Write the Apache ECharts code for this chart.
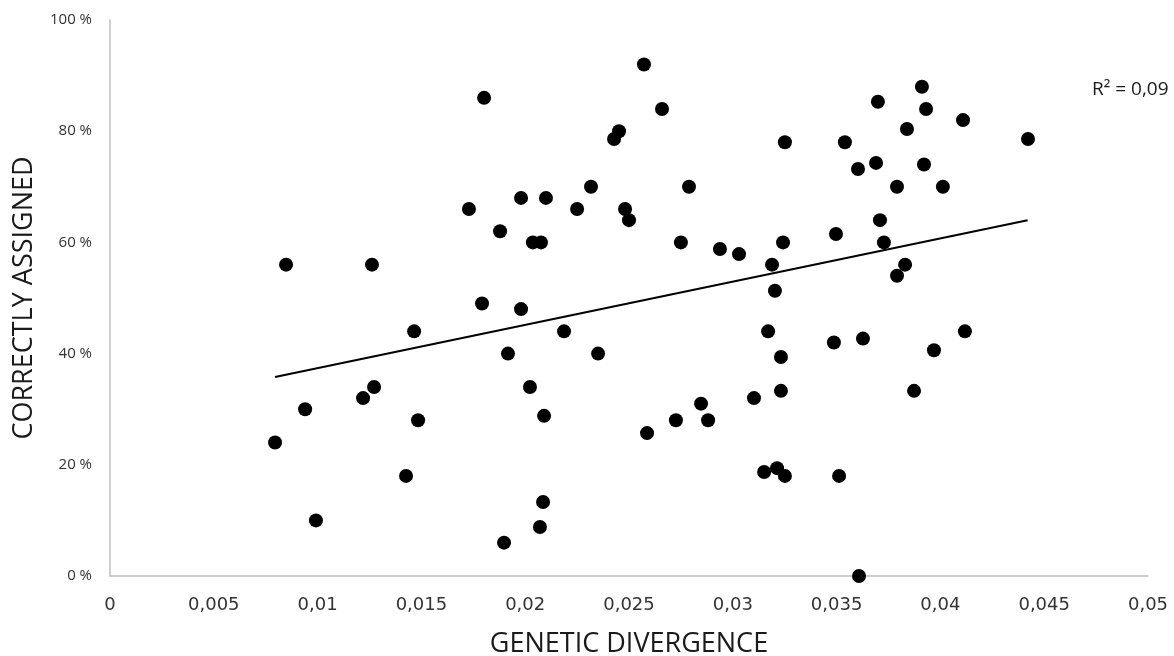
<!DOCTYPE html>
<html>
<head>
<meta charset="utf-8">
<script src="https://cdn.jsdelivr.net/npm/echarts@6/dist/echarts.min.js"></script>
<style>
  html, body { margin: 0; padding: 0; background: #fff; }
  #chart { width: 1174px; height: 656px; }
</style>
</head>
<body>
<div id="chart"></div>
<script>
// genetic divergence (x) vs percent correctly assigned (y)
var divergence = [
  0.00795, 0.00848, 0.0094, 0.00992, 0.01219, 0.01262, 0.01272, 0.01426, 0.01465, 0.01484,
  0.01729, 0.01792, 0.01802, 0.01879, 0.01898, 0.01917, 0.01980, 0.01980, 0.02023, 0.02037,
  0.02071, 0.02076, 0.02086, 0.02091, 0.02100, 0.02187, 0.02250, 0.02317, 0.02351, 0.02428,
  0.02452, 0.02481, 0.02500, 0.02572, 0.02587, 0.02659, 0.02726, 0.02750, 0.02789, 0.02847,
  0.02881, 0.02938, 0.03030, 0.03102, 0.03151, 0.03170, 0.03189, 0.03203, 0.03213, 0.03232,
  0.03232, 0.03242, 0.03251, 0.03251, 0.03487, 0.03497, 0.03512, 0.03540, 0.03603, 0.03608,
  0.03627, 0.03690, 0.03699, 0.03709, 0.03728, 0.03791, 0.03791, 0.03830, 0.03839, 0.03873,
  0.03911, 0.03921, 0.03931, 0.03969, 0.04012, 0.04109, 0.04118, 0.04422
];
var assigned = [
  24, 56, 30, 10, 32, 56, 34, 18, 44, 28,
  66, 49, 86, 62, 6, 40, 68, 48, 34, 60,
  8.8, 60, 13.3, 28.8, 68, 44, 66, 70, 40, 78.6,
  80, 66, 64, 92, 25.7, 84, 28, 60, 70, 31,
  28, 58.8, 57.9, 32, 18.7, 44, 56, 51.3, 19.4, 39.4,
  33.3, 60, 18, 78, 42, 61.5, 18, 78, 73.2, 0,
  42.7, 74.3, 85.3, 64, 60, 54, 70, 56, 80.4, 33.3,
  88, 74, 84, 40.6, 70, 82, 44, 78.6
];
// linear trend line ends as drawn
var trendX = [0.00795, 0.0442];
var trendY = [35.8, 64.0];
var xTicks = { min: 0, max: 0.05, step: 0.005 };
var yTicks = { min: 0, max: 100, step: 20 };
var rSquared = 'R² = 0,09';

var points = divergence.map(function (d, i) { return [d, assigned[i]]; });
var trend = trendX.map(function (d, i) { return [d, trendY[i]]; });

var chart = echarts.init(document.getElementById('chart'));
chart.setOption({
  animation: false,
  backgroundColor: '#fff',
  grid: { left: 110, right: 26, top: 20, bottom: 80, outerBoundsMode: 'none', containLabel: false },
  xAxis: {
    type: 'value',
    min: xTicks.min, max: xTicks.max, interval: xTicks.step,
    name: 'GENETIC DIVERGENCE',
    nameLocation: 'middle',
    nameGap: 55,
    nameTextStyle: { fontFamily: 'Open Sans', fontSize: 27, color: '#1a1a1a' },
    axisLine: { lineStyle: { color: '#bfbfbf', width: 1.5 } },
    axisTick: { show: false },
    splitLine: { show: false },
    axisLabel: {
      margin: 20,
      fontFamily: 'DejaVu Sans', fontSize: 18, color: '#333',
      formatter: function (v) { return String(+v.toFixed(3)).replace('.', ','); }
    }
  },
  yAxis: {
    type: 'value',
    min: yTicks.min, max: yTicks.max, interval: yTicks.step,
    name: 'CORRECTLY ASSIGNED',
    nameLocation: 'middle',
    nameGap: 72,
    nameTextStyle: { fontFamily: 'Open Sans', fontSize: 27, color: '#1a1a1a' },
    axisLine: { show: true, lineStyle: { color: '#bfbfbf', width: 1.5 } },
    axisTick: { show: false },
    splitLine: { show: false },
    axisLabel: {
      margin: 18,
      fontFamily: 'Open Sans', fontSize: 15, color: '#333',
      formatter: '{value} %'
    }
  },
  graphic: [{
    type: 'text',
    left: 1092, top: 80,
    style: { text: rSquared, fontFamily: 'Open Sans', fontSize: 19, fill: '#1a1a1a' }
  }],
  series: [
    {
      type: 'scatter',
      data: points,
      symbol: 'circle',
      symbolSize: 14,
      itemStyle: { color: '#000', opacity: 1 },
      z: 3
    },
    {
      type: 'line',
      data: trend,
      showSymbol: false,
      lineStyle: { color: '#000', width: 2 },
      z: 2
    }
  ]
});
</script>
</body>
</html>
